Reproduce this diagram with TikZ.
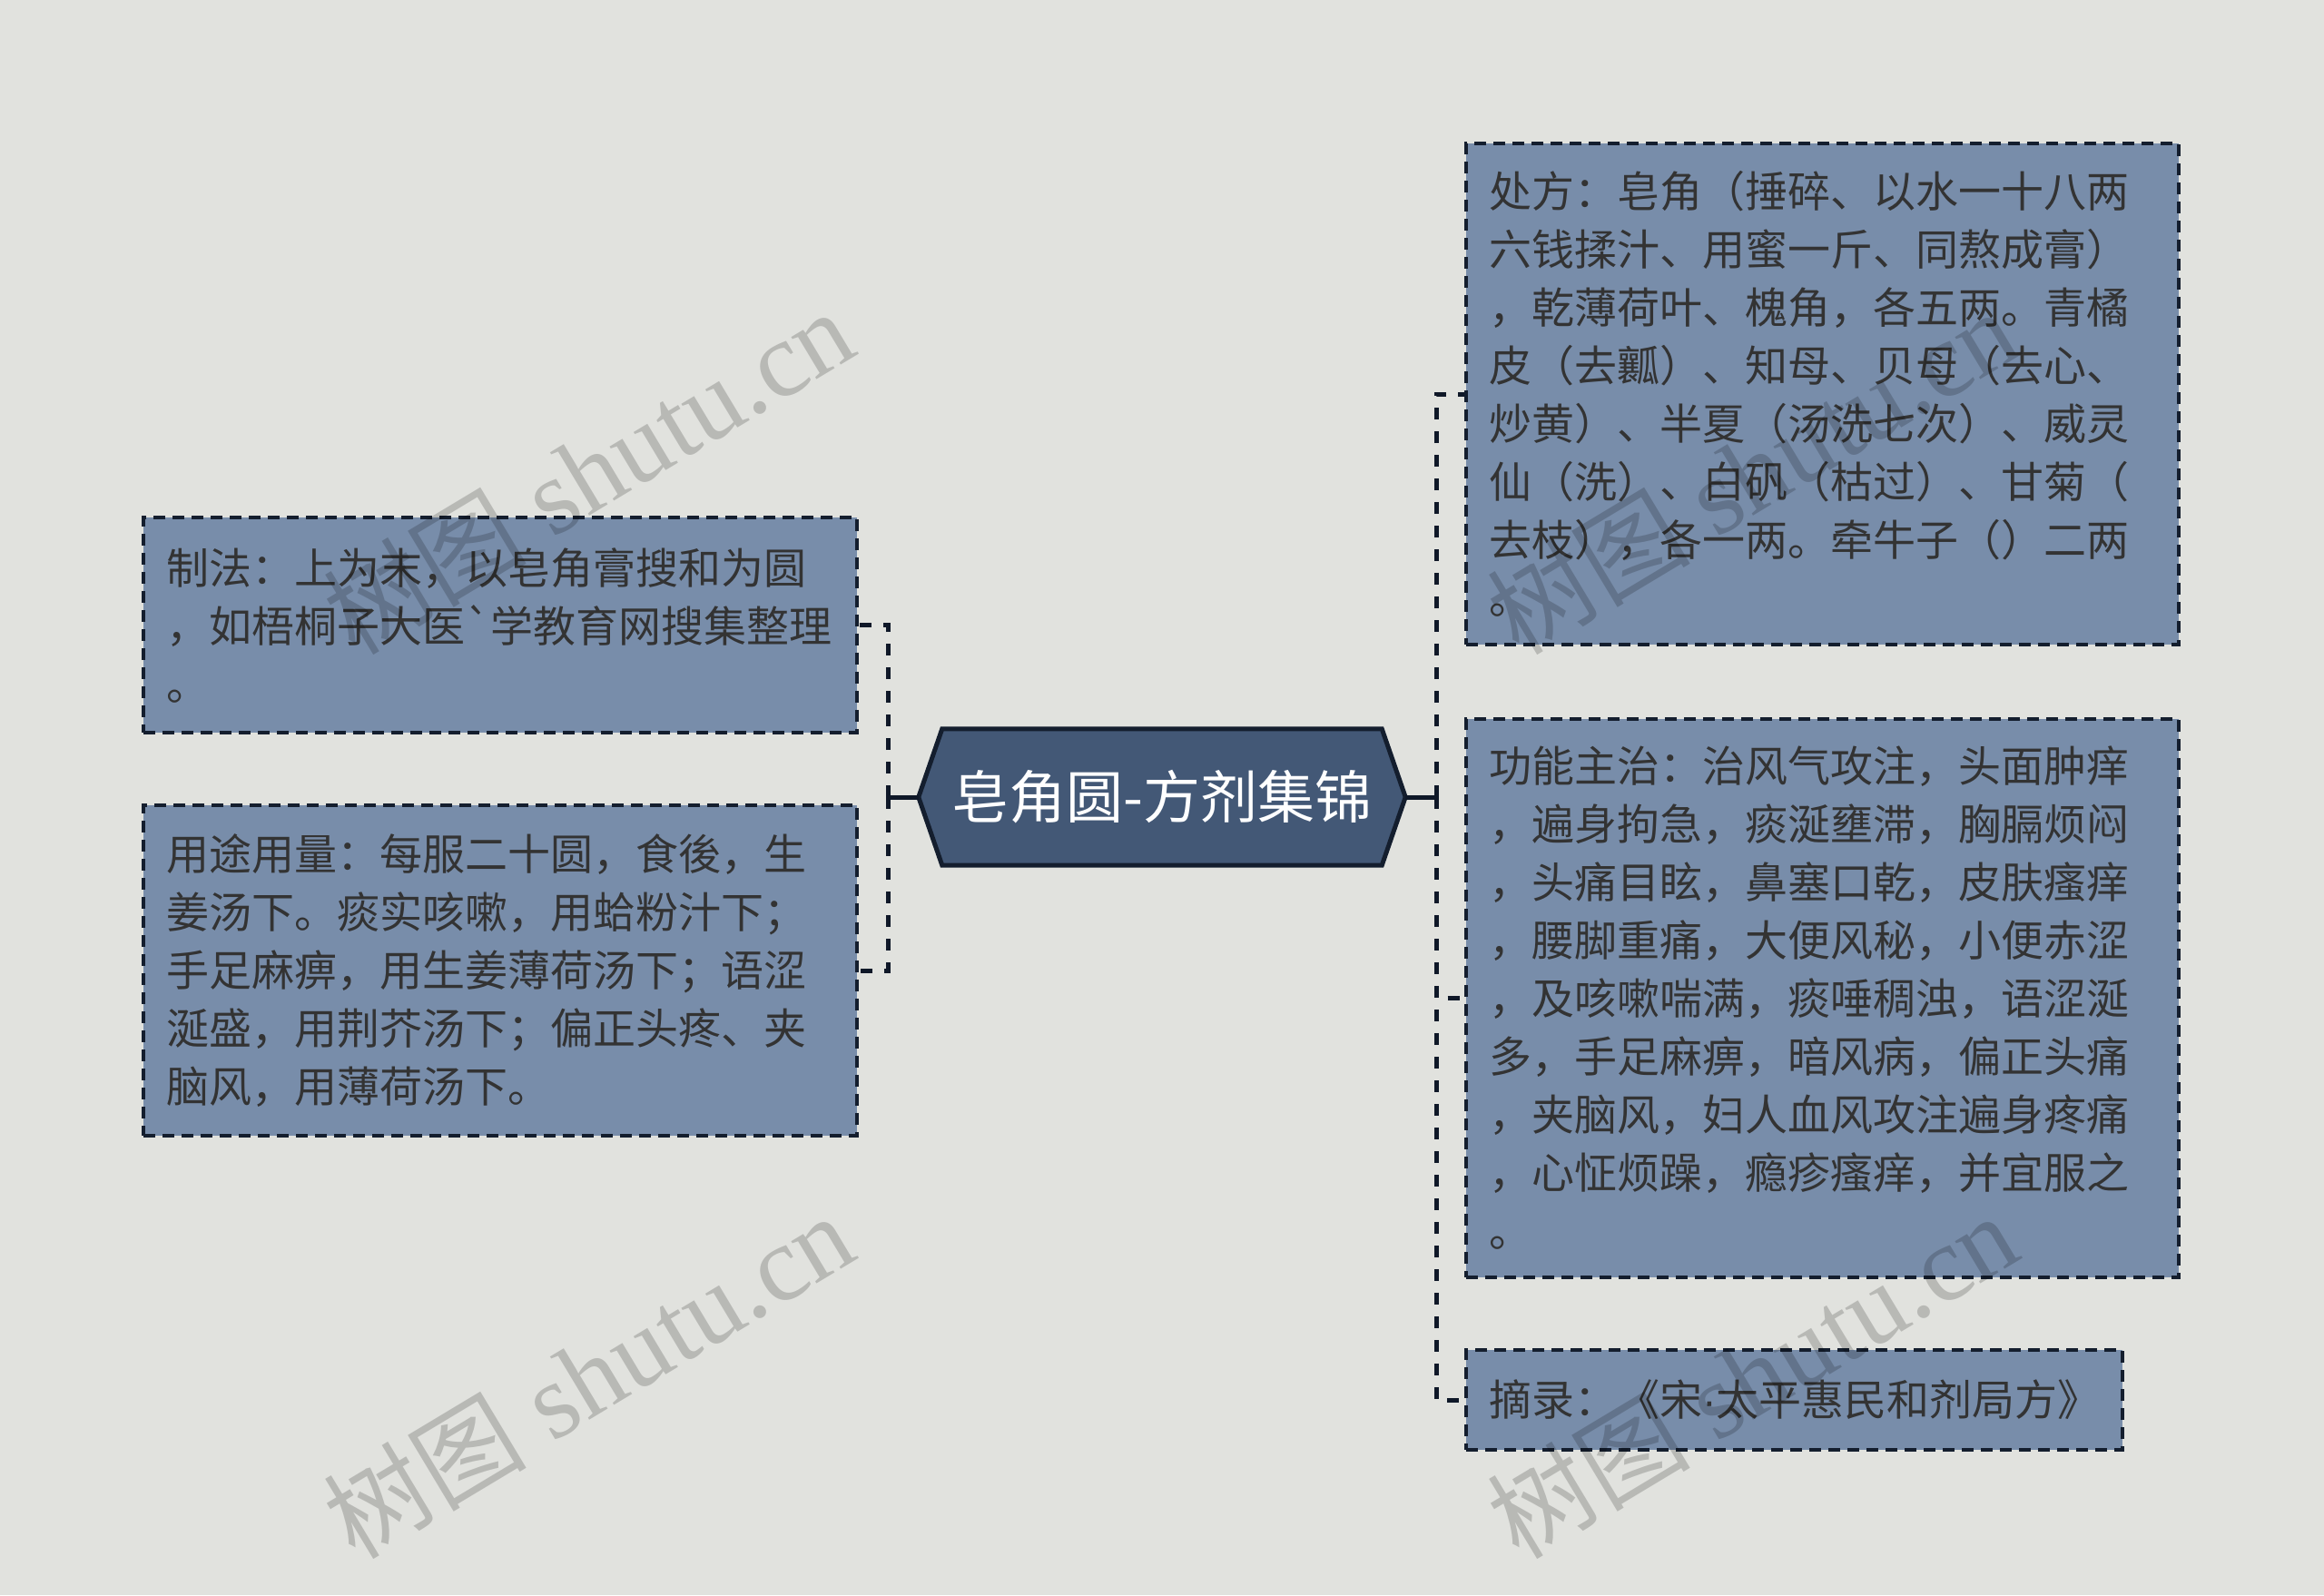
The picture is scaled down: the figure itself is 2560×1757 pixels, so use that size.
\documentclass[tikz,border=0pt]{standalone}
\usepackage{fontspec}
\newfontfamily\cjk{Noto Sans CJK SC}
\newfontfamily\wmfont{Liberation Serif}
\newfontfamily\dotfont{Liberation Sans}
\pgfdeclarelayer{background}
\pgfdeclarelayer{hexlayer}
\pgfsetlayers{background,hexlayer,main}
\definecolor{bgcol}{HTML}{E1E2DE}
\definecolor{boxfill}{HTML}{788DAA}
\definecolor{boxline}{HTML}{141E2E}
\definecolor{rootfill}{HTML}{435876}
\definecolor{rootline}{HTML}{141E2E}
\definecolor{txt}{HTML}{333333}
\definecolor{conncol}{HTML}{0F1828}
\tikzset{
  leaf/.style={draw=boxline, fill=boxfill, line width=3.5pt, dash pattern=on 13pt off 8pt,
    inner xsep=25pt, inner ysep=0pt, align=left, text=txt,
    font=\cjk\fontsize{47}{64}\selectfont},
  rootnode/.style={minimum width=536pt, minimum height=150pt, inner sep=0pt,
    text=white, font=\cjk\fontsize{63}{70}\selectfont},
  hexshape/.style={draw=rootline, fill=rootfill, line width=5pt, line join=miter},
  connsolid/.style={draw=conncol, line width=5pt},
  conndash/.style={draw=conncol, line width=5pt, dash pattern=on 13pt off 13pt},
  wm/.style={text=black, text opacity=0.18, inner sep=0pt, rotate=31}
}
\newcommand{\wmtext}{{\cjk\fontsize{112}{120}\selectfont 树图}{\wmfont\fontsize{118}{126}\selectfont\ shutu.cn}}
\begin{document}
\begin{tikzpicture}[x=1pt,y=-1pt]
\useasboundingbox (0,0) rectangle (2560,1757);
\begin{pgfonlayer}{background}
\fill[bgcol] (0,0) rectangle (2560,1757);
\end{pgfonlayer}

% root
\node[rootnode] (root) at (1280,878) {皂角圆-方剂集锦};
\begin{pgfonlayer}{hexlayer}
\path[hexshape] (root.west) -- ([xshift=26pt]root.north west) -- ([xshift=-26pt]root.north east)
  -- (root.east) -- ([xshift=-26pt]root.south east) -- ([xshift=26pt]root.south west) -- cycle;
\end{pgfonlayer}

% right boxes
\node[leaf, text width=735pt, minimum height=552pt] (b1) at (2007.5,434) {处方：皂角（捶碎、以水一十八两\\六钱揉汁、用蜜一斤、同熬成膏）\\，乾薄荷叶、槐角，各五两。青橘\\皮（去瓤）、知母、贝母（去心、\\炒黄）、半夏（汤洗七次）、威灵\\仙（洗）、白矾（枯过）、甘菊（\\去枝），各一两。牵牛子（）二两\\。};
\node[leaf, text width=735pt, minimum height=615pt] (b2) at (2007.5,1099.5) {功能主治：治风气攻注，头面肿痒\\，遍身拘急，痰涎壅滞，胸膈烦闷\\，头痛目眩，鼻塞口乾，皮肤瘙痒\\，腰脚重痛，大便风秘，小便赤涩\\，及咳嗽喘满，痰唾稠浊，语涩涎\\多，手足麻痹，暗风病，偏正头痛\\，夹脑风，妇人血风攻注遍身疼痛\\，心怔烦躁，瘾疹瘙痒，并宜服之\\。};
\node[leaf, text width=673pt, minimum height=110pt] (b3) at (1976.5,1542) {摘录：《宋{\dotfont ·}太平惠民和剂局方》};

% left boxes
\node[leaf, text width=736pt, minimum height=237pt] (b4) at (551,688.5) {制法：上为末，以皂角膏搜和为圆\\，如梧桐子大医`学教育网搜集整理\\。};
\node[leaf, text width=736pt, minimum height=364pt] (b5) at (551,1069) {用途用量：每服二十圆，食後，生\\姜汤下。痰实咳嗽，用蛤粉汁下；\\手足麻痹，用生姜薄荷汤下；语涩\\涎盛，用荆芥汤下；偏正头疼、夹\\脑风，用薄荷汤下。};

% connectors
\coordinate (tR) at (1582,878);
\coordinate (tL) at (978,878);
\draw[connsolid] (root.east) -- (tR);
\draw[conndash] (tR) |- (b1.west);
\draw[conndash] (tR) |- (b2.west);
\draw[conndash] (tR) |- (b3.west);
\draw[connsolid] (root.west) -- (tL);
\draw[conndash] (tL) |- (b4.east);
\draw[conndash] (tL) |- (b5.east);

% watermarks
\node[wm] (wm1) at (648,520) {\wmtext};
\node[wm] (wm2) at (648,1516) {\wmtext};
\node[wm] (wm3) at (1930,1516) {\wmtext};
\node[wm] (wm4) at (1930,520) {\wmtext};
\end{tikzpicture}
\end{document}
